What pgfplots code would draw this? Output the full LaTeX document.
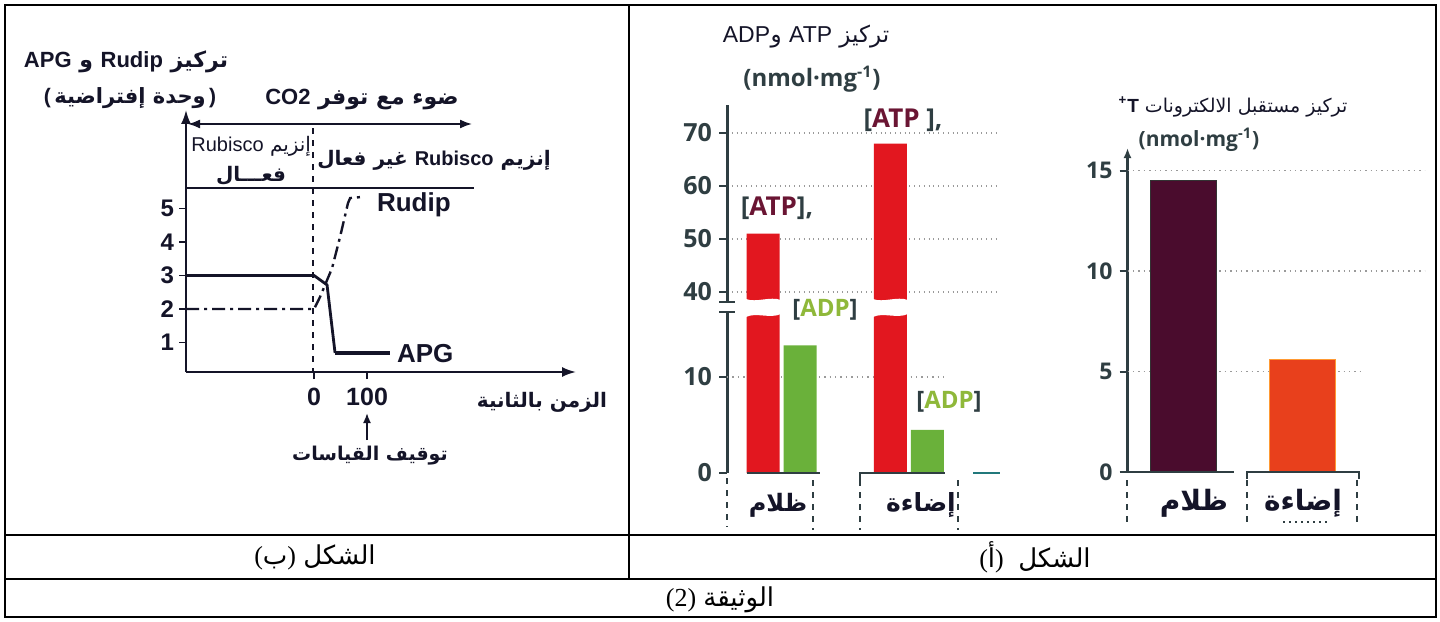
\documentclass[border=0pt]{standalone}
\usepackage{pgfplots}
\pgfplotsset{compat=1.18}
\usepackage{fontspec}
\usetikzlibrary{arrows.meta}
\setmainfont{Liberation Sans}
\newfontfamily\arabicfont[Script=Arabic]{DejaVu Sans}
\newfontfamily\osans{Open Sans}
\newfontfamily\serif{Liberation Serif}
\TeXXeTstate=1
\newcommand{\AR}[1]{{\arabicfont\beginR #1\endR}}
\definecolor{ink}{HTML}{141428}
\definecolor{slate}{HTML}{2F3E42}
\definecolor{atpred}{HTML}{E2171F}
\definecolor{adpgreen}{HTML}{6AB13A}
\definecolor{maroonbar}{HTML}{4A0C2D}
\definecolor{orangebar}{HTML}{E8401C}
\definecolor{atptext}{HTML}{6A1533}
\definecolor{adptext}{HTML}{8FB83A}
\definecolor{gridc}{HTML}{9A9A9A}
\begin{document}
\begin{tikzpicture}
\useasboundingbox (0,0) rectangle (720pt,-310.5pt);
\fill[white] (0,0) rectangle (720pt,-310.5pt);

% ---------- left chart (b) ----------
\begin{axis}[at={(93pt,-186pt)}, anchor=south west, scale only axis,
  width=195pt, height=131pt,
  xmin=-241.5, xmax=494, ymin=0.12, ymax=7.94,
  axis x line=bottom, axis y line=left,
  axis line style={line width=1pt, color=ink, -{Latex[length=7pt,width=5pt]}},
  xtick={0,100}, ytick={1,2,3,4,5},
  tick align=outside, major tick length=3.5pt,
  tick style={line width=0.8pt, color=ink},
  /pgf/number format/assume math mode=true,
  yticklabel style={font=\bfseries\fontsize{12}{14}\selectfont, color=ink, xshift=1pt},
  xticklabel style={font=\bfseries\fontsize{12.5}{14}\selectfont, color=ink, yshift=-1pt},
  clip=false]
\addplot[color=ink, line width=1.4pt] coordinates {(-241.5,3) (0,3) (24.5,2.72) (39.6,0.69)};
\addplot[color=ink, line width=2.4pt] coordinates {(39.6,0.69) (143,0.69)};
\addplot[color=ink, line width=1.2pt, dash pattern=on 6.5pt off 2.5pt on 1.5pt off 2.5pt]
  coordinates {(-241.5,2) (0,2) (11.3,2.36) (34,3.22) (49,4.15) (64,5.16) (68,5.31) (87,5.34)};
\end{axis}

% ---------- middle chart: ATP / ADP (broken axis) ----------
\pgfplotsset{midax/.style={anchor=south west, scale only axis, width=136.5pt,
  xmin=-0.431, xmax=1.7185, axis x line=none, axis y line=left, xtick=\empty,
  axis line style={-, line width=1.5pt, color=slate},
  tick align=outside, major tick length=4pt, tick style={line width=1pt, color=slate},
  /pgf/number format/assume math mode=true,
  yticklabel style={font=\osans\bfseries\fontsize{12.5}{14}\selectfont, color=slate}}}
\begin{axis}[midax, at={(363.5pt,-151pt)}, height=98.5pt, ymin=38.11, ymax=75.28,
  ytick={40,50,60,70}, ymajorgrids, grid style={dotted, gridc, line width=0.7pt}]
\addplot[ybar, bar width=16.5pt, bar shift=-9.25pt, fill=atpred, draw=none] coordinates {(0,51) (1,68)};
\end{axis}
\begin{axis}[midax, at={(363.5pt,-236.5pt)}, height=80.5pt, ymin=0, ymax=16.77, ytick={0,10}]
\draw[dotted, gridc, line width=0.7pt] (axis cs:-0.431,10) -- (axis cs:1.285,10);
\addplot[ybar, bar width=16.5pt, bar shift=-9.25pt, fill=atpred, draw=none] coordinates {(0,51) (1,68)};
\addplot[ybar, bar width=16.5pt, bar shift=9.25pt, fill=adpgreen, draw=none] coordinates {(0,13.3) (1,4.5)};
\end{axis}

% ---------- right chart: T+ ----------
\begin{axis}[at={(563.75pt,-236pt)}, anchor=south west, scale only axis,
  width=148.75pt, height=162pt,
  xmin=-0.4726, xmax=2.038, ymin=0, ymax=16.13,
  axis x line=none, axis y line=left, xtick=\empty,
  axis line style={line width=1.2pt, color=slate, -{Latex[length=5pt,width=4pt]}},
  ytick={0,5,10,15}, tick align=outside, major tick length=4pt,
  tick style={line width=1pt, color=slate},
  /pgf/number format/assume math mode=true,
  yticklabel style={font=\osans\bfseries\fontsize{11.5}{13}\selectfont, color=slate}]
\draw[dotted, gridc, line width=0.7pt] (axis cs:-0.4726,15) -- (axis cs:2.038,15);
\draw[dotted, gridc, line width=0.7pt] (axis cs:-0.4726,10) -- (axis cs:2.038,10);
\draw[dotted, gridc, line width=0.7pt] (axis cs:-0.4726,5) -- (axis cs:1.506,5);
\addplot[ybar, bar width=33pt, bar shift=0pt, fill=maroonbar, draw=black!80, line width=0.5pt] coordinates {(0,14.5)};
\addplot[ybar, bar width=33pt, bar shift=0pt, fill=orangebar, draw=orange!80, line width=0.5pt] coordinates {(1,5.6)};
\end{axis}

\begin{scope}[x=0.5pt,y=-0.5pt]
% ---------- frame ----------
\draw[line width=1.2pt] (5,5) rectangle (1436,617);
\draw[line width=1.2pt] (5,535) -- (1436,535);
\draw[line width=1.2pt] (5,579) -- (1436,579);
\draw[line width=1.2pt] (629,5) -- (629,579);

% left decorations and texts
\draw[ink, dashed, line width=0.6pt] (313,128) -- (313,372);
\draw[ink, line width=0.9pt] (186,188) -- (474,188);
\draw[ink, {Latex[length=6pt,width=4.5pt]}-{Latex[length=6pt,width=4.5pt]}, line width=0.9pt] (188,124) -- (472,124);
\node[ink] at (126,62) {\fontsize{11}{13}\selectfont\bfseries\AR{تركيز \textrm{Rudip} و \textrm{APG}}};
\node[ink] at (130,98) {\fontsize{10.5}{12}\selectfont\bfseries (\,\AR{وحدة إفتراضية}\,)};
\node[ink] at (362,100) {\fontsize{11}{13}\selectfont\bfseries\AR{ضوء مع توفر \textrm{CO2}}};
\node[ink, anchor=west, inner sep=1pt] at (189,146) {\fontsize{10}{12}\selectfont\AR{إنزيم \textrm{Rubisco}}};
\node[ink] at (251,176) {\fontsize{10}{12}\selectfont\bfseries\AR{فعـــال}};
\node[ink] at (434,160) {\fontsize{10}{12}\selectfont\bfseries\AR{إنزيم \textrm{Rubisco} غير فعال}};
\node[ink, anchor=west] at (370,205) {\fontsize{13}{15}\selectfont\bfseries Rudip};
\node[ink, anchor=west] at (390,354) {\fontsize{13}{15}\selectfont\bfseries APG};
\node[ink] at (542,402) {\fontsize{10}{12}\selectfont\bfseries\AR{الزمن بالثانية}};
\draw[ink, -{Latex[length=5pt,width=4pt]}, line width=0.9pt] (367,440) -- (367,413);
\node[ink] at (370,456) {\fontsize{9.5}{11}\selectfont\bfseries\AR{توقيف القياسات}};

% middle decorations and texts
\foreach \xa/\xb in {746/781,873/908}{
  \fill[white] (\xa,311) -- (\xa,317) .. controls (\xa+10,312) and (\xa+24,319) .. (\xb,314) -- (\xb,311) -- cycle;
  \fill[white] (\xa,303) -- (\xa,299) .. controls (\xa+10,303) and (\xa+24,296) .. (\xb,300) -- (\xb,303) -- cycle;
}
\draw[slate, line width=1pt] (719,302) -- (735,302);
\draw[slate, line width=1pt] (719,312) -- (735,312);
\draw[slate, dashed, line width=1.2pt] (727,478) -- (727,527);
\draw[slate, line width=1pt] (747,473) -- (820,473);
\draw[slate, line width=1pt] (860,481) -- (860,473) -- (945,473);
\draw[slate!70!cyan, line width=1pt] (973,473) -- (1000,473);
\foreach \xx in {813,860,958} \draw[slate, dashed, line width=1.2pt] (\xx,480) -- (\xx,530);
\node[ink] at (806,37) {\fontsize{11.5}{13}\selectfont\AR{تركيز \textrm{ATP} و\hspace{0.3pt}\textrm{ADP}}};
\node[slate] at (812,79) {\osans\bfseries\fontsize{12}{14}\selectfont (nmol·mg\textsuperscript{-1})};
\node[slate] at (777,208) {\osans\bfseries\fontsize{13}{15}\selectfont [\textcolor{atptext}{ATP}],};
\node[slate] at (903,120) {\osans\bfseries\fontsize{13}{15}\selectfont [\textcolor{atptext}{ATP} ],};
\node[slate] at (825,310) {\osans\bfseries\fontsize{12}{14}\selectfont [\textcolor{adptext}{ADP}]};
\node[slate] at (949,402) {\osans\bfseries\fontsize{12}{14}\selectfont [\textcolor{adptext}{ADP}]};
\node[ink] at (778,505) {\fontsize{12}{14}\selectfont\bfseries\AR{ظلام}};
\node[ink] at (921,505) {\fontsize{12.5}{14}\selectfont\bfseries\AR{إضاءة}};

% right decorations and texts
\draw[slate, line width=1pt] (1127,472) -- (1234,472);
\draw[slate, line width=1pt] (1247,479) -- (1247,472) -- (1359,472) -- (1359,479);
\foreach \xx in {1127,1247,1357} \draw[slate, dashed, line width=1.2pt] (\xx,480) -- (\xx,525);
\draw[slate, dotted, line width=1pt] (1283,522) -- (1330,522);
\node[ink] at (1233,107) {\fontsize{9.5}{11}\selectfont\AR{تركيز مستقبل الالكترونات \textrm{\bfseries T\textsuperscript{+}}}};
\node[slate] at (1199,140) {\osans\bfseries\fontsize{10.5}{12}\selectfont (nmol·mg\textsuperscript{-1})};
\node[ink] at (1194,503) {\fontsize{14}{16}\selectfont\bfseries\AR{ظلام}};
\node[ink] at (1303,503) {\fontsize{14}{16}\selectfont\bfseries\AR{إضاءة}};

% captions
\node at (315,557) {\fontsize{13}{15}\selectfont{\serif(}\AR{ب}{\serif)} \AR{الشكل}};
\node at (1035,557) {\fontsize{13}{15}\selectfont{\serif(}\AR{أ}{\serif)}\ \ \AR{الشكل}};
\node at (720,600) {\fontsize{13}{15}\selectfont{\serif(2)} \AR{الوثيقة}};
\end{scope}
\end{tikzpicture}
\end{document}
